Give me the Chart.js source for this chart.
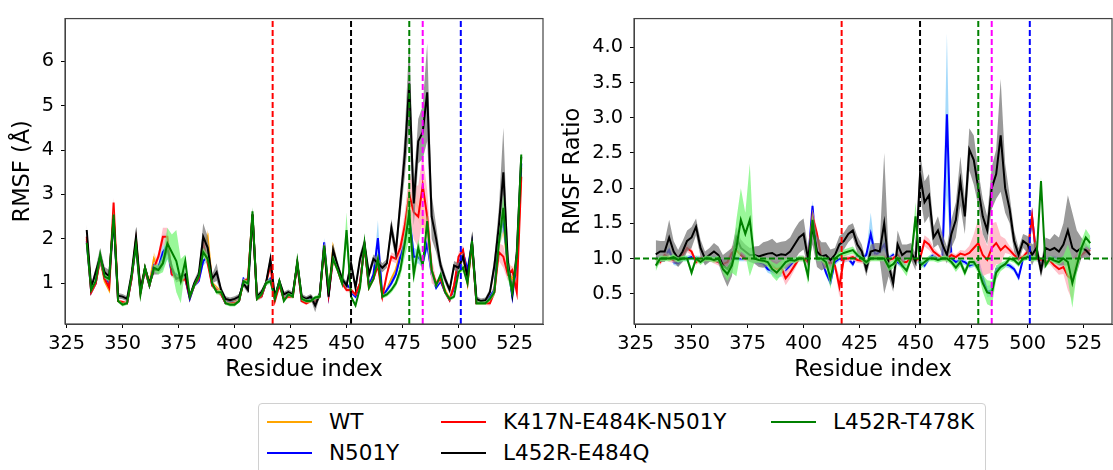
<!DOCTYPE html>
<html>
<head>
<meta charset="utf-8">
<script src="https://cdn.jsdelivr.net/npm/chart.js@4.4.0/dist/chart.umd.min.js"></script>
<style>
  body { margin: 0; background: #fff; width: 1113px; height: 470px; overflow: hidden; position: relative; font-family: "DejaVu Sans", sans-serif; }
  #left { position: absolute; left: 0; top: 0; }
  #right { position: absolute; left: 560px; top: 0; }
  #legend { position: absolute; left: 258px; top: 403px; width: 728px; height: 80px; border: 1px solid #d0d0d0; border-radius: 4px; box-sizing: border-box; }
  .item { position: absolute; height: 24px; font-size: 21.5px; line-height: 24px; color: #000; white-space: nowrap; }
  .item i { position: absolute; left: 0; top: 11px; width: 45px; border-top: 2px solid; }
  .item span { position: absolute; left: 62px; top: 0; }
</style>
</head>
<body>
<canvas id="left" width="560" height="390"></canvas>
<canvas id="right" width="553" height="390"></canvas>
<div id="legend"></div>
<script>
// residue positions (every second residue)
const residues = [
  334,336,338,340,342,344,346,348,350,352,
  354,356,358,360,362,364,366,368,370,372,
  374,376,378,380,382,384,386,388,390,392,
  394,396,398,400,402,404,406,408,410,412,
  414,416,418,420,422,424,426,428,430,432,
  434,436,438,440,442,444,446,448,450,452,
  454,456,458,460,462,464,466,468,470,472,
  474,476,478,480,482,484,486,488,490,492,
  494,496,498,500,502,504,506,508,510,512,
  514,516,518,520,522,524,526,528];

const xTicks = [325, 350, 375, 400, 425, 450, 475, 500, 525];
const rmsfTicks = [1, 2, 3, 4, 5, 6];
const ratioTicks = [0.5, 1.0, 1.5, 2.0, 2.5, 3.0, 3.5, 4.0];

const names = ["WT", "N501Y", "K417N-E484K-N501Y", "L452R-E484Q", "L452R-T478K"];
const colors = ["#ffa500", "#0000ff", "#ff0000", "#000000", "#008000"];
const bandColors = ["rgba(255,180,60,0.45)", "rgba(135,206,250,0.75)", "rgba(255,182,193,0.85)", "rgba(120,120,120,0.75)", "rgba(110,245,110,0.7)"];

// mutation sites
const sites = [417, 452, 478, 484, 501];
const siteColors = ["#ff0000", "#000000", "#008000", "#ff00ff", "#0000ff"];

// RMSF (Å)
const wtRmsf = [
  2.0,0.8,1.0,1.55,1.05,0.85,2.6,0.6,0.55,0.55,
  1.1,2.0,0.8,1.35,1.0,1.55,1.35,1.6,1.9,1.2,
  1.15,1.05,1.15,0.65,0.95,1.1,1.8,2.05,1.0,0.9,
  0.8,0.6,0.55,0.6,0.6,1.05,1.05,2.55,0.65,0.7,
  1.0,1.1,0.7,1.0,0.65,0.75,0.75,1.45,0.6,0.6,
  0.6,0.65,0.7,1.8,0.75,1.8,1.35,1.05,0.95,0.8,
  0.75,1.0,1.85,0.95,1.1,1.6,0.7,0.85,1.1,1.3,
  1.7,2.2,2.6,2.9,2.7,2.5,2.2,1.2,0.95,1.1,
  0.85,0.65,0.95,1.45,1.6,1.0,1.9,0.55,0.55,0.6,
  0.65,0.9,2.0,2.4,1.3,1.1,1.2,3.6];
const n501yRmsf = [
  1.95,0.8,1.0,1.6,1.1,1.0,2.5,0.6,0.55,0.55,
  1.1,1.9,0.8,1.3,0.95,1.4,1.35,1.7,1.85,1.2,
  1.2,1.05,1.1,0.65,0.95,1.05,1.5,1.6,0.95,0.85,
  0.75,0.55,0.6,0.55,0.6,1.1,1.0,2.55,0.65,0.7,
  1.0,1.1,0.65,1.0,0.65,0.75,0.75,1.45,0.6,0.6,
  0.65,0.65,0.7,1.92,0.75,1.6,1.35,1.05,1.0,0.8,
  0.7,1.0,1.85,0.95,1.2,2.02,0.7,0.85,1.0,1.2,
  1.6,2.0,2.55,1.6,1.6,1.45,1.9,1.2,0.9,1.05,
  0.8,0.62,0.9,1.5,1.7,1.3,1.9,0.55,0.55,0.55,
  0.7,0.85,2.0,2.5,1.4,0.7,1.5,3.7];
const tripleRmsf = [
  2.05,0.8,1.0,1.55,1.1,0.9,2.82,0.6,0.58,0.55,
  1.1,1.95,0.8,1.3,0.95,1.35,1.6,2.05,2.05,1.2,
  1.15,1.05,1.1,0.7,0.95,1.1,1.9,1.45,0.95,0.85,
  0.75,0.55,0.55,0.55,0.6,1.05,1.1,2.55,0.65,0.7,
  1.0,1.4,0.6,0.95,0.65,0.7,0.7,1.45,0.6,0.55,
  0.6,0.6,0.7,1.85,0.75,1.55,1.3,1.0,0.85,0.85,
  0.75,1.0,1.85,0.9,1.1,1.4,0.7,1.2,1.6,1.55,
  1.8,2.3,3.0,2.6,2.5,3.2,2.5,1.3,1.0,1.1,
  0.8,0.62,0.95,1.6,1.75,1.05,1.9,0.55,0.55,0.55,
  0.55,0.8,1.7,1.6,1.2,1.3,0.8,3.4];
const e484qRmsf = [
  2.2,0.9,1.25,1.6,1.25,1.15,2.45,0.72,0.7,0.65,
  1.2,2.05,0.85,1.35,1.0,1.3,1.3,1.45,1.8,1.35,
  1.1,1.15,1.2,0.7,1.0,1.2,2.05,1.8,1.1,1.25,
  0.85,0.65,0.62,0.65,0.7,1.0,0.85,2.55,0.7,0.8,
  1.0,1.55,0.7,1.05,0.75,0.8,0.75,1.45,0.7,0.65,
  0.7,0.5,0.75,1.8,0.7,1.75,1.4,1.1,0.95,1.45,
  0.9,1.55,1.9,1.2,1.55,1.45,1.35,1.45,2.25,1.7,
  2.8,3.9,5.5,2.8,4.2,4.4,5.3,2.5,2.0,1.4,
  1.1,0.85,1.4,1.35,1.6,1.15,1.95,0.65,0.6,0.62,
  0.8,1.4,2.3,3.5,1.5,0.75,1.7,3.85];
const t478kRmsf = [
  1.91,0.85,1.05,1.65,1.15,1.1,2.55,0.6,0.52,0.55,
  1.15,1.85,0.75,1.35,0.95,1.35,1.3,1.45,1.9,1.7,
  1.5,1.05,1.5,0.7,0.95,1.15,1.7,1.55,1.0,0.8,
  0.8,0.55,0.52,0.52,0.6,1.05,1.0,2.62,0.65,0.75,
  1.0,1.05,0.65,1.05,0.6,0.75,0.7,1.5,0.65,0.6,
  0.6,0.68,0.7,1.85,0.9,1.55,1.3,1.0,2.2,0.7,
  0.5,0.9,1.9,0.9,1.1,1.55,0.7,0.75,0.85,1.0,
  1.3,1.9,2.6,1.2,1.8,1.4,2.4,1.3,0.95,1.2,
  0.8,0.65,0.7,1.25,1.35,1.0,1.95,0.55,0.55,0.55,
  0.65,0.8,1.9,2.7,1.3,0.8,1.6,3.9];

// RMSF spread (shaded band half-width)
const wtSd = [
  0.06,0.05,0.05,0.08,0.05,0.05,0.1,0.04,0.04,0.04,
  0.05,0.08,0.05,0.06,0.05,0.15,0.1,0.1,0.1,0.06,
  0.05,0.05,0.05,0.04,0.05,0.05,0.1,0.15,0.05,0.05,
  0.05,0.04,0.04,0.04,0.04,0.05,0.05,0.1,0.04,0.04,
  0.05,0.06,0.04,0.05,0.04,0.04,0.04,0.08,0.04,0.04,
  0.04,0.04,0.04,0.08,0.04,0.08,0.06,0.05,0.05,0.05,
  0.04,0.05,0.08,0.05,0.05,0.08,0.04,0.05,0.06,0.08,
  0.15,0.2,0.3,0.3,0.3,0.3,0.2,0.08,0.05,0.05,
  0.04,0.04,0.05,0.06,0.08,0.05,0.08,0.04,0.04,0.04,
  0.05,0.08,0.2,0.3,0.2,0.25,0.25,0.15];
const n501ySd = [
  0.06,0.05,0.05,0.08,0.05,0.05,0.1,0.04,0.04,0.04,
  0.05,0.08,0.05,0.06,0.05,0.08,0.08,0.4,0.3,0.06,
  0.05,0.05,0.05,0.04,0.05,0.05,0.1,0.1,0.05,0.05,
  0.05,0.04,0.04,0.04,0.04,0.05,0.05,0.1,0.04,0.04,
  0.05,0.06,0.04,0.05,0.04,0.04,0.04,0.1,0.04,0.04,
  0.04,0.04,0.04,0.1,0.04,0.08,0.06,0.05,0.05,0.05,
  0.04,0.05,0.08,0.05,0.05,0.4,0.04,0.05,0.06,0.08,
  0.1,0.2,0.3,0.2,0.15,0.1,0.15,0.08,0.05,0.05,
  0.04,0.04,0.05,0.06,0.1,0.05,0.08,0.04,0.04,0.04,
  0.05,0.08,0.2,0.3,0.2,0.1,0.15,0.15];
const tripleSd = [
  0.06,0.05,0.05,0.08,0.05,0.05,0.1,0.04,0.04,0.04,
  0.05,0.08,0.05,0.06,0.05,0.08,0.1,0.2,0.2,0.06,
  0.05,0.05,0.05,0.04,0.05,0.05,0.2,0.1,0.05,0.05,
  0.05,0.04,0.04,0.04,0.04,0.05,0.05,0.1,0.04,0.04,
  0.05,0.1,0.04,0.05,0.04,0.04,0.04,0.08,0.04,0.04,
  0.04,0.04,0.04,0.08,0.04,0.08,0.06,0.05,0.05,0.05,
  0.04,0.05,0.08,0.05,0.05,0.08,0.04,0.05,0.1,0.1,
  0.15,0.3,0.5,0.6,0.7,0.7,0.6,0.3,0.08,0.05,
  0.04,0.04,0.05,0.1,0.1,0.05,0.08,0.04,0.04,0.04,
  0.05,0.08,0.2,0.25,0.15,0.1,0.1,0.15];
const e484qSd = [
  0.12,0.08,0.1,0.2,0.12,0.15,0.12,0.06,0.06,0.06,
  0.08,0.12,0.08,0.1,0.08,0.1,0.1,0.1,0.12,0.1,
  0.08,0.08,0.08,0.06,0.08,0.1,0.3,0.25,0.1,0.2,
  0.08,0.06,0.06,0.06,0.06,0.08,0.08,0.15,0.06,0.06,
  0.08,0.1,0.06,0.08,0.06,0.06,0.06,0.1,0.06,0.06,
  0.06,0.15,0.06,0.1,0.06,0.15,0.1,0.08,0.08,0.15,
  0.08,0.12,0.12,0.1,0.1,0.12,0.1,0.1,0.2,0.2,
  0.3,0.5,1.0,0.5,0.5,0.6,1.1,0.5,0.3,0.15,
  0.1,0.08,0.1,0.1,0.1,0.08,0.1,0.06,0.06,0.06,
  0.08,0.2,0.4,1.0,0.3,0.1,0.15,0.15];
const t478kSd = [
  0.06,0.05,0.05,0.08,0.05,0.05,0.1,0.04,0.04,0.04,
  0.05,0.08,0.05,0.06,0.05,0.08,0.1,0.2,0.35,0.4,
  0.7,0.5,0.15,0.04,0.05,0.05,0.1,0.1,0.05,0.05,
  0.05,0.04,0.04,0.04,0.04,0.05,0.05,0.1,0.04,0.04,
  0.05,0.06,0.04,0.05,0.04,0.04,0.04,0.08,0.04,0.04,
  0.04,0.04,0.04,0.08,0.04,0.08,0.06,0.05,0.4,0.05,
  0.04,0.05,0.08,0.05,0.05,0.08,0.04,0.05,0.06,0.08,
  0.15,0.3,0.6,0.2,0.2,0.15,0.2,0.08,0.05,0.05,
  0.04,0.04,0.05,0.06,0.08,0.05,0.08,0.04,0.04,0.04,
  0.05,0.08,0.2,0.3,0.2,0.1,0.15,0.15];

// RMSF ratio to WT
const n501yRatio = [
  1.0,0.98,1.03,1.12,0.95,0.93,1.0,1.0,1.02,1.0,
  1.0,0.97,1.0,1.0,0.98,0.95,0.98,1.05,1.0,1.0,
  1.0,1.0,0.98,0.95,0.93,0.85,0.82,0.78,0.8,0.82,
  0.9,0.95,1.0,1.0,0.95,1.75,1.0,1.0,0.8,0.66,
  0.95,1.0,0.98,1.0,0.92,1.05,1.0,1.05,1.35,1.05,
  1.1,1.2,1.0,1.05,0.95,0.9,0.95,1.0,1.0,0.95,
  0.9,1.0,1.05,1.0,1.0,3.05,1.0,0.95,0.97,0.95,
  0.9,0.92,0.97,0.73,0.53,0.55,0.85,0.88,0.92,0.9,
  0.85,0.73,1.0,1.05,1.6,1.0,0.95,0.98,1.0,1.0,
  0.98,1.0,0.95,0.8,0.95,1.05,1.12,1.15];
const tripleRatio = [
  1.0,0.95,1.05,1.0,0.98,1.0,1.05,1.15,1.1,0.95,
  1.0,0.98,1.0,0.97,0.95,0.92,0.95,1.08,1.12,1.05,
  1.0,1.0,1.0,0.98,0.97,0.95,0.9,0.85,0.88,0.72,
  0.8,0.9,1.0,1.0,0.95,1.6,1.35,1.0,0.9,0.95,
  0.9,0.6,1.0,1.0,1.02,0.98,0.97,0.95,1.0,1.02,
  1.0,1.02,0.98,1.0,1.05,0.95,0.95,1.0,0.98,1.0,
  1.25,1.2,1.1,1.05,1.0,1.0,1.05,1.02,1.07,1.05,
  1.08,1.15,1.22,1.05,0.98,1.15,1.22,1.12,1.18,1.12,
  1.05,1.0,1.02,1.1,1.6,1.0,0.98,0.95,0.97,0.9,
  0.85,0.88,0.75,0.7,0.98,1.05,1.1,1.12];
const e484qRatio = [
  1.06,1.1,1.1,1.3,1.1,1.0,1.1,1.25,1.3,1.45,
  1.15,1.0,1.05,1.1,1.05,0.9,0.85,0.95,1.3,1.15,
  1.1,1.05,1.05,1.03,1.05,1.07,1.08,1.04,1.06,1.05,
  1.1,1.2,1.3,1.35,1.0,1.45,1.1,1.03,1.05,0.98,
  1.05,1.2,1.25,1.35,1.4,1.2,1.1,0.85,1.1,1.12,
  1.1,1.5,0.9,0.65,1.2,1.05,1.1,1.1,0.95,2.2,
  1.8,1.9,1.3,1.4,1.2,1.05,1.35,1.55,2.1,1.6,
  2.55,2.4,2.0,1.6,1.4,2.0,2.2,2.75,2.0,1.7,
  1.25,1.05,1.25,1.2,1.05,1.15,0.83,1.15,1.12,1.15,
  1.1,1.2,1.4,1.15,1.1,1.15,1.12,1.05];
const t478kRatio = [
  0.9,1.0,1.0,1.0,1.02,0.98,1.0,1.0,0.8,1.0,
  0.95,1.0,1.0,0.98,1.0,0.85,0.78,0.9,1.15,1.55,
  1.35,1.55,1.0,0.98,0.97,0.95,0.85,0.8,0.87,0.95,
  0.98,0.97,1.0,1.0,0.75,1.55,1.0,1.0,0.95,0.72,
  1.0,1.05,1.08,1.1,1.12,1.05,1.0,0.95,1.0,1.0,
  1.0,1.0,0.88,0.92,1.0,0.9,0.83,1.0,1.6,0.9,
  0.95,1.0,1.0,0.98,1.0,1.0,0.95,0.87,0.95,0.8,
  0.95,0.95,0.85,0.65,0.52,0.5,0.8,0.88,0.92,1.0,
  0.98,0.92,1.0,1.02,1.0,1.0,2.1,0.9,1.0,0.97,
  0.95,1.0,0.95,0.65,0.9,1.15,1.3,1.22];

const n501yRatioSd = [
  0.04,0.04,0.04,0.06,0.04,0.04,0.04,0.04,0.04,0.04,
  0.04,0.04,0.04,0.04,0.04,0.04,0.04,0.04,0.04,0.04,
  0.04,0.04,0.04,0.04,0.04,0.05,0.05,0.06,0.06,0.05,
  0.04,0.04,0.04,0.04,0.04,0.08,0.04,0.04,0.05,0.05,
  0.04,0.04,0.04,0.04,0.04,0.04,0.04,0.04,0.3,0.04,
  0.04,0.08,0.04,0.04,0.04,0.04,0.04,0.04,0.04,0.04,
  0.04,0.04,0.04,0.04,0.04,1.15,0.04,0.04,0.04,0.04,
  0.04,0.04,0.04,0.06,0.08,0.08,0.05,0.04,0.04,0.04,
  0.04,0.05,0.04,0.04,0.08,0.04,0.04,0.04,0.04,0.04,
  0.04,0.04,0.04,0.08,0.04,0.04,0.05,0.05];
const tripleRatioSd = [
  0.04,0.04,0.06,0.05,0.04,0.04,0.05,0.06,0.05,0.04,
  0.04,0.04,0.04,0.04,0.05,0.06,0.05,0.1,0.08,0.05,
  0.04,0.04,0.04,0.04,0.04,0.05,0.08,0.1,0.1,0.1,
  0.08,0.06,0.04,0.04,0.05,0.1,0.08,0.04,0.06,0.05,
  0.05,0.15,0.05,0.04,0.04,0.04,0.04,0.04,0.04,0.04,
  0.04,0.04,0.04,0.04,0.04,0.04,0.04,0.04,0.04,0.04,
  0.08,0.08,0.06,0.04,0.04,0.04,0.04,0.04,0.05,0.06,
  0.1,0.2,0.35,0.3,0.2,0.35,0.3,0.2,0.1,0.06,
  0.05,0.04,0.04,0.05,0.1,0.04,0.04,0.04,0.05,0.06,
  0.08,0.1,0.2,0.3,0.1,0.05,0.05,0.05];
const e484qRatioSd = [
  0.2,0.15,0.15,0.25,0.15,0.12,0.15,0.15,0.15,0.12,
  0.12,0.1,0.1,0.12,0.12,0.15,0.25,0.2,0.15,0.12,
  0.1,0.1,0.12,0.15,0.18,0.18,0.2,0.18,0.18,0.2,
  0.2,0.22,0.22,0.22,0.15,0.25,0.22,0.2,0.18,0.15,
  0.1,0.12,0.12,0.12,0.1,0.12,0.1,0.1,0.1,0.1,
  0.12,1.0,0.15,0.12,0.2,0.15,0.1,0.12,0.12,0.3,
  0.3,0.3,0.15,0.2,0.15,0.12,0.2,0.25,0.35,0.25,
  0.3,0.35,0.25,0.25,0.2,0.3,0.35,0.8,0.35,0.2,
  0.15,0.1,0.1,0.12,0.15,0.1,0.1,0.15,0.15,0.2,
  0.2,0.3,0.5,0.5,0.3,0.15,0.1,0.08];
const t478kRatioSd = [
  0.08,0.04,0.04,0.04,0.04,0.04,0.04,0.04,0.06,0.04,
  0.04,0.04,0.04,0.04,0.04,0.06,0.1,0.1,0.4,0.45,
  0.3,0.8,0.06,0.04,0.04,0.06,0.1,0.12,0.1,0.05,
  0.04,0.04,0.04,0.04,0.12,0.1,0.04,0.04,0.06,0.15,
  0.04,0.05,0.05,0.05,0.05,0.04,0.04,0.04,0.04,0.04,
  0.04,0.04,0.06,0.06,0.04,0.06,0.08,0.04,0.2,0.06,
  0.04,0.04,0.04,0.04,0.04,0.04,0.04,0.06,0.06,0.06,
  0.04,0.05,0.06,0.12,0.17,0.18,0.1,0.06,0.05,0.04,
  0.04,0.04,0.04,0.04,0.04,0.04,0.06,0.04,0.04,0.04,
  0.04,0.04,0.25,0.35,0.1,0.1,0.12,0.1];

const xMin = 324.3, xMax = 537.7;

Chart.defaults.font.family = "'DejaVu Sans', sans-serif";
Chart.defaults.color = "#000";

function series(vals, sd, k, order) {
  const pts = f => residues.map((r, i) => ({ x: r, y: f(i) }));
  const none = "rgba(0,0,0,0)";
  return [
    { data: pts(i => vals[i] - sd[i]), borderColor: none, borderWidth: 0, pointRadius: 0, fill: false, order: order + 2 },
    { data: pts(i => vals[i] + sd[i]), borderColor: none, borderWidth: 0, pointRadius: 0, fill: "-1", backgroundColor: bandColors[k], order: order + 1 },
    { data: pts(i => vals[i]), borderColor: colors[k], borderWidth: 2, pointRadius: 0, fill: false, order: order }
  ];
}

function siteLines(yMin, yMax) {
  return sites.map((s, i) => ({
    data: [{ x: s, y: yMin }, { x: s, y: yMax }],
    borderColor: siteColors[i], borderWidth: 2, borderDash: [6, 3], pointRadius: 0, fill: false, order: -1
  }));
}

const frame = {
  id: "frame",
  afterDatasetsDraw(chart) {
    const { ctx, chartArea: a } = chart;
    ctx.save();
    ctx.strokeStyle = "#444";
    ctx.lineWidth = 1.2;
    ctx.strokeRect(a.left, a.top, a.right - a.left, a.bottom - a.top);
    ctx.restore();
  }
};

function panel(id, o) {
  return new Chart(document.getElementById(id), {
    type: "line",
    data: { datasets: o.datasets },
    options: {
      responsive: false,
      animation: false,
      devicePixelRatio: 1,
      layout: { padding: { top: 14, right: o.padRight, left: 0, bottom: 0 } },
      plugins: { legend: { display: false }, tooltip: { enabled: false } },
      scales: {
        x: {
          type: "linear", min: xMin, max: xMax,
          afterBuildTicks: s => { s.ticks = xTicks.map(v => ({ value: v })); },
          afterFit: s => { s.height = 66; },
          grid: { drawOnChartArea: false, color: "#000", tickLength: 4 },
          border: { color: "#444" },
          ticks: { font: { size: 19.3 }, color: "#000", padding: 4, maxRotation: 0, autoSkip: false },
          title: { display: true, text: "Residue index", font: { size: 22.5 }, color: "#000", padding: { top: 0, bottom: 6 } }
        },
        y: {
          type: "linear", min: o.yMin, max: o.yMax,
          afterBuildTicks: s => { s.ticks = o.yTicks.map(v => ({ value: v })); },
          afterFit: s => { s.width = o.yWidth; },
          grid: { drawOnChartArea: false, color: "#000", tickLength: 4 },
          border: { color: "#444" },
          ticks: { font: { size: 19.3 }, color: "#000", padding: 7, callback: o.fmt },
          title: { display: true, text: o.yTitle, font: { size: 22.5 }, color: "#000", padding: { top: o.titlePad, bottom: 0 } }
        }
      }
    },
    plugins: [frame]
  });
}

const rmsfSets = [].concat(
  series(wtRmsf, wtSd, 0, 12),
  series(n501yRmsf, n501ySd, 1, 9),
  series(tripleRmsf, tripleSd, 2, 6),
  series(e484qRmsf, e484qSd, 3, 3),
  series(t478kRmsf, t478kSd, 4, 0),
  siteLines(0.084, 6.96)
);

const ratioSets = [].concat(
  series(n501yRatio, n501yRatioSd, 1, 9),
  series(tripleRatio, tripleRatioSd, 2, 6),
  series(e484qRatio, e484qRatioSd, 3, 3),
  series(t478kRatio, t478kRatioSd, 4, 0),
  siteLines(0.07, 4.41),
  [{ data: [{ x: xMin, y: 1 }, { x: xMax, y: 1 }], borderColor: "#008000", borderWidth: 2, borderDash: [6, 3], pointRadius: 0, fill: false, order: -1 }]
);

panel("left", {
  datasets: rmsfSets, yMin: 0.084, yMax: 6.96, yTicks: rmsfTicks, yWidth: 65, padRight: 17,
  yTitle: "RMSF (Å)", titlePad: 10, fmt: v => String(v)
});

panel("right", {
  datasets: ratioSets, yMin: 0.07, yMax: 4.41, yTicks: ratioTicks, yWidth: 74, padRight: 1,
  yTitle: "RMSF Ratio", titlePad: 0, fmt: v => v.toFixed(1)
});

// legend, filled column by column like the original
const legend = document.getElementById("legend");
const colX = [8, 182, 512];
const rowY = [6, 37];
names.forEach((n, i) => {
  const col = Math.floor(i / 2), row = i % 2;
  const d = document.createElement("div");
  d.className = "item";
  d.style.left = colX[col] + "px";
  d.style.top = rowY[row] + "px";
  d.innerHTML = `<i style="border-color:${colors[i]}"></i><span>${n}</span>`;
  legend.appendChild(d);
});
</script>
</body>
</html>
